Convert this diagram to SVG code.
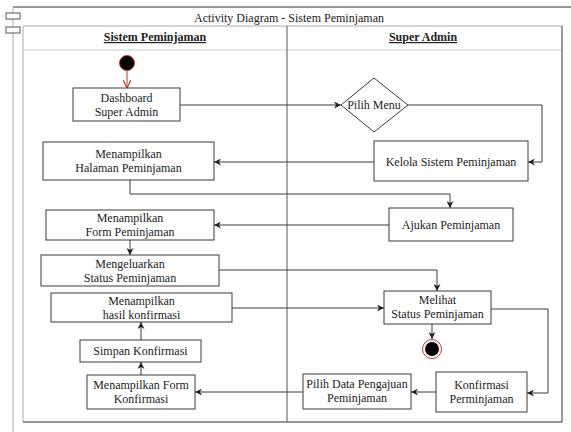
<svg xmlns="http://www.w3.org/2000/svg" width="571" height="432" viewBox="0 0 571 432">
  <style>
    .box { fill: #ffffff; stroke: #3a3a3a; stroke-width: 1; }
    .lbl { font-family: "Liberation Serif", "Times New Roman", serif; font-size: 12px; fill: #222222; text-anchor: middle; }
    .hdr { font-family: "Liberation Serif", "Times New Roman", serif; font-size: 12px; font-weight: bold; fill: #222222; text-anchor: middle; text-decoration: underline; }
    .edge { fill: none; stroke: #3a3a3a; stroke-width: 1; marker-end: url(#arrow); }
    .plain { fill: none; stroke: #3a3a3a; stroke-width: 1; }
  </style>
  <defs>
    <marker id="arrow" viewBox="0 0 10 10" refX="10" refY="5" markerWidth="7" markerHeight="7" orient="auto" markerUnits="userSpaceOnUse">
      <path d="M0,0 L10,5 L0,10 L3,5 Z" fill="#222222"/>
    </marker>
    <marker id="arrowRed" viewBox="0 0 10 10" refX="10" refY="5" markerWidth="8" markerHeight="8" orient="auto" markerUnits="userSpaceOnUse">
      <path d="M0,0 L10,5 L0,10" fill="none" stroke="#cc3333" stroke-width="1.5"/>
    </marker>
  </defs>

  <rect width="571" height="432" fill="#ffffff"/>

  <!-- outer frame -->
  <g id="frame">
    <line x1="13" y1="7" x2="571" y2="7" stroke="#333333"/>
    <line x1="13" y1="7" x2="13" y2="432" stroke="#aaaaaa"/>
    <rect x="6" y="13" width="14" height="6" fill="#ffffff" stroke="#555555"/>
    <rect x="6" y="27" width="14" height="6" fill="#ffffff" stroke="#555555"/>
    <text x="289" y="22" class="lbl">Activity Diagram - Sistem Peminjaman</text>
  </g>

  <!-- swimlanes -->
  <g id="lanes">
    <line x1="23" y1="26" x2="562" y2="26" stroke="#aaaaaa"/>
    <line x1="23" y1="26" x2="23" y2="422" stroke="#aaaaaa"/>
    <line x1="23" y1="50" x2="562" y2="50" stroke="#cccccc"/>
    <line x1="23" y1="422" x2="562" y2="422" stroke="#333333"/>
    <line x1="562" y1="26" x2="562" y2="422" stroke="#333333"/>
    <line x1="287" y1="26" x2="287" y2="422" stroke="#555555"/>
    <text x="155" y="41" class="hdr">Sistem Peminjaman</text>
    <text x="423" y="41" class="hdr">Super Admin</text>
  </g>

  <!-- connectors -->
  <g id="connectors">
    <line x1="127" y1="71" x2="127" y2="88" stroke="#cc3333" stroke-width="1" marker-end="url(#arrowRed)"/>
    <path class="edge" d="M180,105 H341"/>
    <path class="edge" d="M408,105 H542 V162 H528"/>
    <path class="edge" d="M374,162 H214"/>
    <path class="edge" d="M130,180 V194 H450 V208"/>
    <path class="edge" d="M389,225 H214"/>
    <path class="edge" d="M130,240 V255"/>
    <path class="edge" d="M219,270 H437 V291"/>
    <path class="edge" d="M232,308 H384"/>
    <path class="edge" d="M432,324 V339"/>
    <path class="edge" d="M491,309 H548 V393 H527"/>
    <path class="edge" d="M436,392 H411"/>
    <path class="edge" d="M303,392 H195"/>
    <path class="edge" d="M141,375 V362"/>
    <path class="edge" d="M141,340 V322"/>
  </g>

  <!-- nodes -->
  <g id="start">
    <circle cx="127" cy="63" r="7.5" fill="#000000" stroke="#cc3333" stroke-width="1"/>
  </g>
  <g id="dashboard">
    <rect class="box" x="73" y="88" width="107" height="33"/>
    <text class="lbl" x="126.5" y="102">Dashboard</text>
    <text class="lbl" x="126.5" y="116">Super Admin</text>
  </g>
  <g id="pilihMenu">
    <polygon points="374,78 408,105 374,132 341,105" fill="#ffffff" stroke="#3a3a3a"/>
    <text class="lbl" x="374" y="109">Pilih Menu</text>
  </g>
  <g id="kelola">
    <rect class="box" x="374" y="141" width="154" height="40"/>
    <text class="lbl" x="451" y="166">Kelola Sistem Peminjaman</text>
  </g>
  <g id="halaman">
    <rect class="box" x="43" y="142" width="171" height="38"/>
    <text class="lbl" x="128.5" y="158">Menampilkan</text>
    <text class="lbl" x="128.5" y="172">Halaman Peminjaman</text>
  </g>
  <g id="ajukan">
    <rect class="box" x="389" y="208" width="124" height="33"/>
    <text class="lbl" x="451" y="229">Ajukan Peminjaman</text>
  </g>
  <g id="formPeminjaman">
    <rect class="box" x="46" y="210" width="168" height="30"/>
    <text class="lbl" x="130" y="222">Menampilkan</text>
    <text class="lbl" x="130" y="236">Form Peminjaman</text>
  </g>
  <g id="mengeluarkan">
    <rect class="box" x="41" y="255" width="178" height="31"/>
    <text class="lbl" x="130" y="268">Mengeluarkan</text>
    <text class="lbl" x="130" y="282">Status Peminjaman</text>
  </g>
  <g id="hasilKonfirmasi">
    <rect class="box" x="51" y="293" width="181" height="29"/>
    <text class="lbl" x="141.5" y="305">Menampilkan</text>
    <text class="lbl" x="141.5" y="319">hasil konfirmasi</text>
  </g>
  <g id="simpan">
    <rect class="box" x="80" y="340" width="121" height="22"/>
    <text class="lbl" x="140.5" y="355">Simpan Konfirmasi</text>
  </g>
  <g id="formKonfirmasi">
    <rect class="box" x="87" y="375" width="108" height="34"/>
    <text class="lbl" x="141" y="389">Menampilkan Form</text>
    <text class="lbl" x="141" y="403">Konfirmasi</text>
  </g>
  <g id="melihat">
    <rect class="box" x="384" y="291" width="107" height="33"/>
    <text class="lbl" x="437.5" y="304">Melihat</text>
    <text class="lbl" x="437.5" y="318">Status Peminjaman</text>
  </g>
  <g id="end">
    <circle cx="432" cy="349" r="9.5" fill="#ffffff" stroke="#cc3333" stroke-width="1"/>
    <circle cx="432" cy="349" r="7" fill="#000000"/>
  </g>
  <g id="konfirmasi">
    <rect class="box" x="436" y="372" width="91" height="40"/>
    <text class="lbl" x="481.5" y="389">Konfirmasi</text>
    <text class="lbl" x="481.5" y="403">Perminjaman</text>
  </g>
  <g id="pilihData">
    <rect class="box" x="303" y="374" width="108" height="35"/>
    <text class="lbl" x="357" y="388">Pilih Data Pengajuan</text>
    <text class="lbl" x="357" y="402">Peminjaman</text>
  </g>
</svg>
